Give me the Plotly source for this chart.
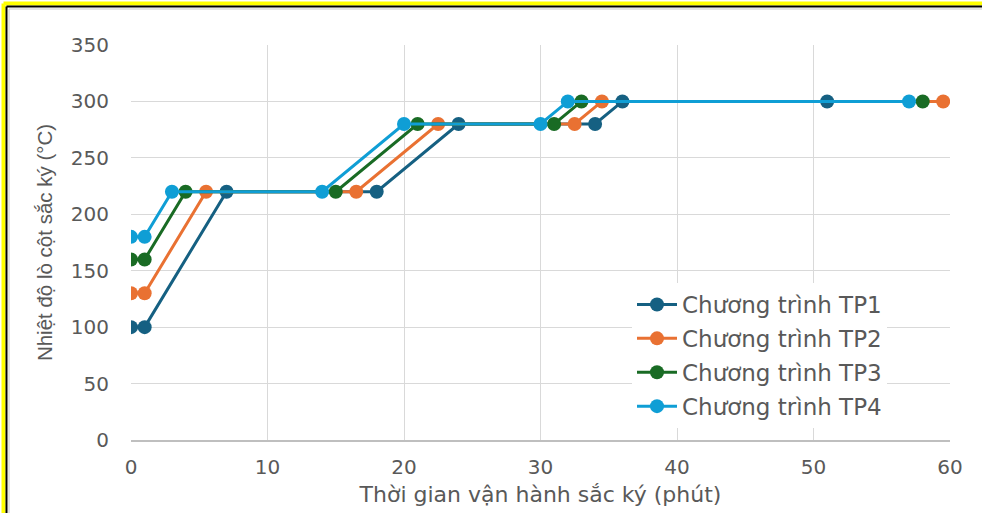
import plotly.graph_objects as go

# Data (time in minutes, temperature in °C)
tp1_x = [0, 1, 7, 18, 24, 34, 36, 51]
tp1_y = [100, 100, 220, 220, 280, 280, 300, 300]
tp2_x = [0, 1, 5.5, 16.5, 22.5, 32.5, 34.5, 59.5]
tp2_y = [130, 130, 220, 220, 280, 280, 300, 300]
tp3_x = [0, 1, 4, 15, 21, 31, 33, 58]
tp3_y = [160, 160, 220, 220, 280, 280, 300, 300]
tp4_x = [0, 1, 3, 14, 20, 30, 32, 57]
tp4_y = [180, 180, 220, 220, 280, 280, 300, 300]

names = ["Chương trình TP1", "Chương trình TP2", "Chương trình TP3", "Chương trình TP4"]
colors = ["#156082", "#E97132", "#196B24", "#0F9ED5"]
series = [(tp1_x, tp1_y), (tp2_x, tp2_y), (tp3_x, tp3_y), (tp4_x, tp4_y)]

x_ticks = [0, 10, 20, 30, 40, 50, 60]
y_ticks = [0, 50, 100, 150, 200, 250, 300, 350]

W, H = 982, 513
L, R, T, B = 131, 32, 45, 73
pw, ph = W - L - R, H - T - B

fig = go.Figure()
for (xs, ys), name, col in zip(series, names, colors):
    fig.add_trace(go.Scatter(
        x=xs, y=ys, name=name, mode="lines+markers", legendgroup=name,
        line=dict(color=col, width=3),
        marker=dict(color=col, size=14),
    ))

wide = "DejaVu Sans, Verdana, sans-serif"
reg = "Liberation Sans, Arial, sans-serif"

def px_x(p):
    return (p - L) / pw

def px_y(p):
    return (H - B - p) / ph

shapes = []
# frame: yellow, black, gray lines at top and left
for pos, col, wdt in [(3.5, "#FFFF00", 4), (6.5, "#000000", 2), (9, "#C8C8C8", 1)]:
    shapes.append(dict(type="line", xref="paper", yref="paper",
                       x0=px_x(pos), x1=px_x(W + 5), y0=px_y(pos), y1=px_y(pos),
                       line=dict(color=col, width=wdt), layer="above"))
    shapes.append(dict(type="line", xref="paper", yref="paper",
                       x0=px_x(pos), x1=px_x(pos), y0=px_y(pos), y1=px_y(H + 5),
                       line=dict(color=col, width=wdt), layer="above"))

fig.update_layout(
    width=W, height=H,
    margin=dict(l=L, r=R, t=T, b=B, autoexpand=False),
    paper_bgcolor="white", plot_bgcolor="white",
    shapes=shapes,
    showlegend=True,
    legend=dict(
        x=px_x(632), y=px_y(283), xanchor="left", yanchor="top",
        font=dict(family=wide, size=23, color="#595959"),
        bgcolor="rgba(255,255,255,1)", tracegroupgap=1,
        traceorder="grouped", itemwidth=40,
    ),
    xaxis=dict(
        range=[0, 60], tickvals=x_ticks, ticktext=[str(v) for v in x_ticks],
        showgrid=True, gridcolor="#D9D9D9", gridwidth=1.3,
        zeroline=False, showline=True, linecolor="#BFBFBF", linewidth=1.5,
        ticks="", ticklabelstandoff=8, automargin=False,
        tickfont=dict(family=wide, size=20, color="#595959"),
        title=dict(text="Thời gian vận hành sắc ký (phút)", standoff=9,
                   font=dict(family=wide, size=22, color="#595959")),
    ),
    yaxis=dict(
        range=[0, 350], tickvals=y_ticks, ticktext=[str(v) for v in y_ticks],
        showgrid=True, gridcolor="#D9D9D9", gridwidth=1.3,
        zeroline=False, showline=False, automargin=False,
        ticks="", ticklabelstandoff=21,
        tickfont=dict(family=wide, size=20, color="#595959"),
        title=dict(text="Nhiệt độ lò cột sắc ký (°C)", standoff=12,
                   font=dict(family=reg, size=20.5, color="#595959")),
    ),
)
fig.write_html("out.html", config={"displayModeBar": False},
               post_script="document.body.style.margin='0';document.body.style.overflow='hidden';")
